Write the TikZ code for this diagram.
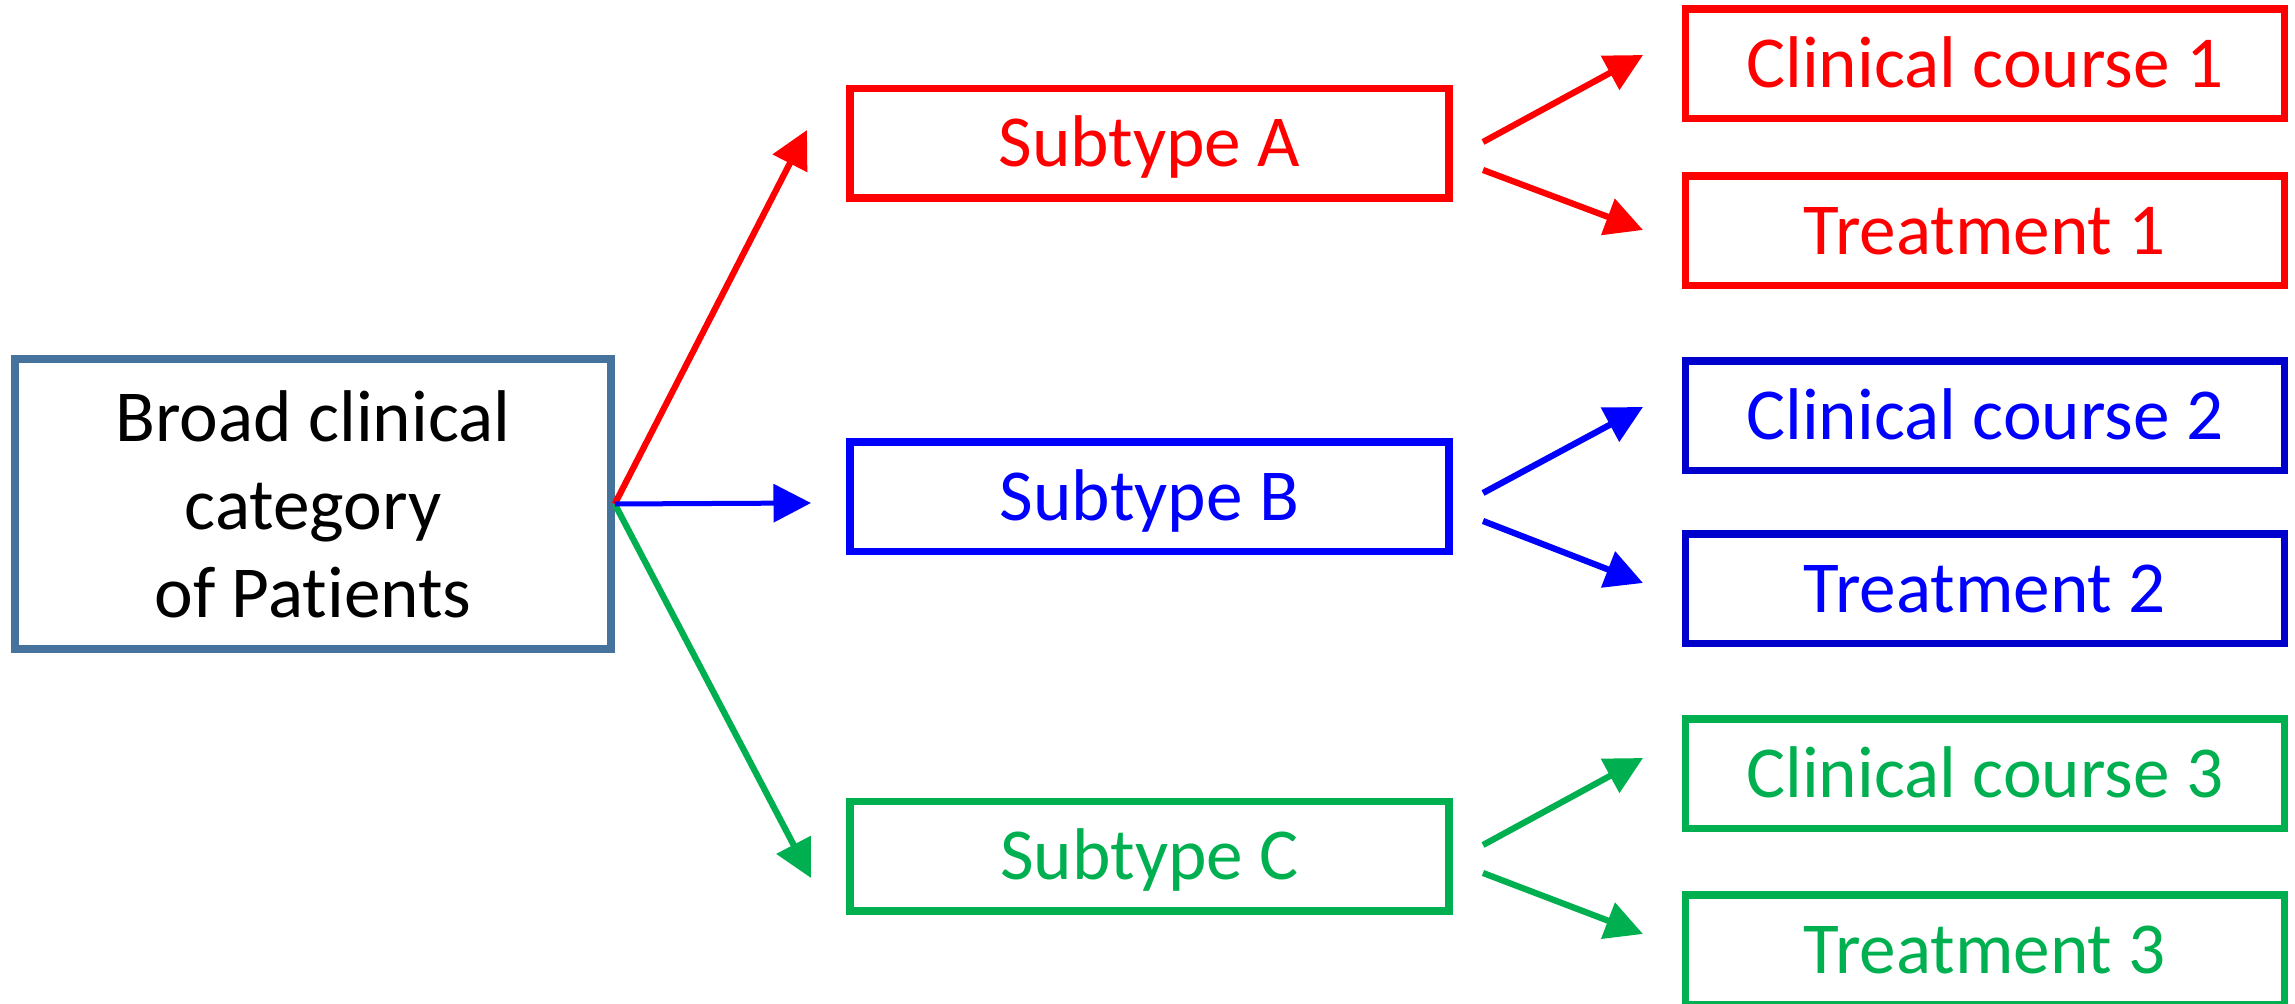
\documentclass[tikz,border=0pt]{standalone}
\usepackage{fontspec}
\setmainfont{Carlito}[Ligatures={NoCommon,NoContextual,NoRare},RawFeature={-clig}]
\usetikzlibrary{arrows.meta}

\definecolor{framegray}{RGB}{70,115,155}
\definecolor{cred}{RGB}{255,0,0}
\definecolor{cblue}{RGB}{0,0,255}
\definecolor{cdarkblue}{RGB}{0,0,204}
\definecolor{cgreen}{RGB}{0,176,80}

\begin{document}
\begin{tikzpicture}[x=0.4pt,y=-0.4pt,
  every node/.style={font=\fontsize{29.3pt}{35.2pt}\selectfont, inner sep=0pt},
  box/.style={draw, rectangle, line width=3pt, minimum width=239.6pt,
    minimum height=43.8pt, text height=18.8pt, text depth=0pt},
  link/.style={line width=2.5pt, -{Triangle[length=15pt,width=15pt]}}
]
\useasboundingbox (0,0) rectangle (2295,1004);

% root
\node[draw=framegray, line width=3pt, rectangle, minimum width=238.4pt,
  minimum height=116pt, align=center] (root) at (313,504)
  {Broad clinical\\category\\of Pat{}ients};

% subtypes
\node[box, draw=cred, text=cred]     (sa) at (1149.5,143.5) {Subtype A};
\node[box, draw=cblue, text=cblue]   (sb) at (1149.5,497)   {Subtype B};
\node[box, draw=cgreen, text=cgreen] (sc) at (1149.5,856.5) {Subtype C};

% outcomes
\node[box, draw=cred, text=cred]         (c1) at (1985,64)  {Clinical course 1};
\node[box, draw=cred, text=cred]         (t1) at (1985,231) {Treatment 1};
\node[box, draw=cdarkblue, text=cblue]   (c2) at (1985,416) {Clinical course 2};
\node[box, draw=cdarkblue, text=cblue]   (t2) at (1985,589) {Treatment 2};
\node[box, draw=cgreen, text=cgreen]     (c3) at (1985,774) {Clinical course 3};
\node[box, draw=cgreen, text=cgreen]     (t3) at (1985,950) {Treatment 3};

% arrow end points
\coordinate (o)   at (root.east);
\coordinate (ea)  at (807,130);
\coordinate (eb)  at (811,503);
\coordinate (ec)  at (811,878);

\coordinate (a1s) at (1483,142); \coordinate (a1e) at (1643,55);
\coordinate (a2s) at (1483,170); \coordinate (a2e) at (1643,230);
\coordinate (b1s) at (1483,493); \coordinate (b1e) at (1643,407);
\coordinate (b2s) at (1483,521); \coordinate (b2e) at (1643,583);
\coordinate (c1s) at (1483,845); \coordinate (c1e) at (1643,758);
\coordinate (c2s) at (1483,873); \coordinate (c2e) at (1643,934);

% root to subtypes
\draw[link, cred]   (o) -- (ea);
\draw[link, cgreen] (o) -- (ec);
\draw[link, cblue, line width=2pt]  (o) -- (eb);

% subtypes to outcomes
\draw[link, cred]   (a1s) -- (a1e);
\draw[link, cred]   (a2s) -- (a2e);
\draw[link, cblue]  (b1s) -- (b1e);
\draw[link, cblue]  (b2s) -- (b2e);
\draw[link, cgreen] (c1s) -- (c1e);
\draw[link, cgreen] (c2s) -- (c2e);
\end{tikzpicture}
\end{document}
